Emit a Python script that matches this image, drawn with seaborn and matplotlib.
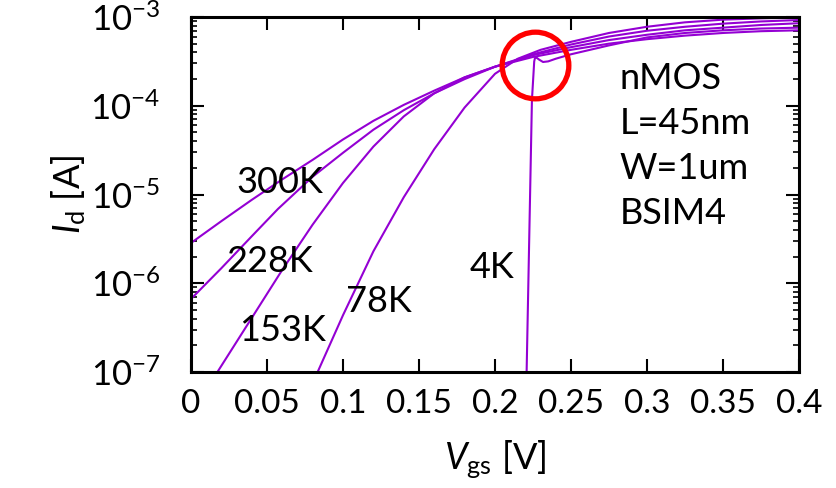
import matplotlib
matplotlib.use("Agg")
import matplotlib.pyplot as plt
import seaborn as sns
import numpy as np
import pandas as pd

# Id-Vgs curves; Vgs in V, Id given as log10(Id / A)
vgs_300 = [0.0, 0.02, 0.04, 0.06, 0.08, 0.10, 0.12, 0.14, 0.16, 0.18, 0.20,
           0.225, 0.25, 0.275, 0.30, 0.325, 0.35, 0.375, 0.40]
logid_300 = [-5.546, -5.30, -5.06, -4.83, -4.61, -4.38, -4.17, -3.99, -3.83, -3.68, -3.56,
             -3.45, -3.37, -3.30, -3.25, -3.21, -3.18, -3.16, -3.15]

vgs_228 = [0.0, 0.02, 0.04, 0.0572, 0.08, 0.10, 0.12, 0.14, 0.16, 0.18, 0.20,
           0.225, 0.25, 0.275, 0.30, 0.325, 0.35, 0.375, 0.40]
logid_228 = [-6.177, -5.83, -5.47, -5.163, -4.80, -4.53, -4.27, -4.05, -3.86, -3.70, -3.56,
             -3.43, -3.34, -3.26, -3.20, -3.15, -3.12, -3.09, -3.07]

vgs_153 = [0.0, 0.0178, 0.04, 0.06, 0.08, 0.10, 0.12, 0.14, 0.16, 0.18, 0.20,
           0.225, 0.25, 0.275, 0.30, 0.325, 0.35, 0.375, 0.40]
logid_153 = [-7.5, -6.989, -6.39, -5.85, -5.34, -4.87, -4.46, -4.12, -3.86, -3.68, -3.56,
             -3.42, -3.31, -3.22, -3.155, -3.11, -3.075, -3.05, -3.034]

vgs_78 = [0.07, 0.0836, 0.10, 0.12, 0.14, 0.16, 0.18, 0.20, 0.215, 0.23,
          0.25, 0.275, 0.30, 0.325, 0.35, 0.375, 0.40]
logid_78 = [-7.55, -6.989, -6.36, -5.64, -5.03, -4.49, -4.02, -3.64, -3.47, -3.37,
            -3.28, -3.18, -3.11, -3.06, -3.03, -3.015, -3.005]

vgs_4 = [0.2200, 0.2243, 0.2258, 0.2263, 0.2275, 0.229, 0.2316, 0.235, 0.24, 0.25, 0.26,
         0.275, 0.30, 0.325, 0.35, 0.375, 0.40]
logid_4 = [-7.7, -3.935, -3.50, -3.462, -3.46, -3.48, -3.507, -3.50, -3.47, -3.42, -3.38,
           -3.32, -3.23, -3.18, -3.15, -3.13, -3.12]

temps = ["300K", "228K", "153K", "78K", "4K"]
# temperature tag positions (Vgs, Id)
label_x = [0.0586, 0.052, 0.0599, 0.1237, 0.198]
label_y = [1.38e-5, 1.78e-6, 2.9e-7, 6.15e-7, 1.49e-6]

info_lines = ["nMOS", "L=45nm", "W=1um", "BSIM4"]
x_ticks = [0, 0.05, 0.1, 0.15, 0.2, 0.25, 0.3, 0.35, 0.4]
x_ticklabels = ["0", "0.05", "0.1", "0.15", "0.2", "0.25", "0.3", "0.35", "0.4"]
y_ticks = [1e-7, 1e-6, 1e-5, 1e-4, 1e-3]
y_ticklabels = [r"$\mathregular{10^{-7}}$", r"$\mathregular{10^{-6}}$", r"$\mathregular{10^{-5}}$",
                r"$\mathregular{10^{-4}}$", r"$\mathregular{10^{-3}}$"]

# circled kink of the 4K curve
kink_vgs = 0.2263
kink_id = 2.88e-4

frames = []
for t, v, li in zip(temps, [vgs_300, vgs_228, vgs_153, vgs_78, vgs_4],
                    [logid_300, logid_228, logid_153, logid_78, logid_4]):
    frames.append(pd.DataFrame({"Vgs": v, "Id": np.power(10.0, li), "T": t}))
df = pd.concat(frames, ignore_index=True)

sns.set_style("ticks")
plt.rcParams["font.family"] = ["Lato", "DejaVu Sans"]
plt.rcParams["mathtext.fontset"] = "custom"
plt.rcParams["mathtext.rm"] = "Lato"
plt.rcParams["mathtext.it"] = "Lato:italic"
for key in ["text.color", "axes.labelcolor", "xtick.color", "ytick.color"]:
    plt.rcParams[key] = "black"

purple = "#9400D3"
fig = plt.figure(figsize=(8.36, 4.88), dpi=100)
ax = fig.add_axes([191 / 836, 116 / 488, 608 / 836, 355 / 488])

sns.lineplot(data=df, x="Vgs", y="Id", hue="T", units="T", estimator=None,
             palette={t: purple for t in temps}, linewidth=1.5, legend=False,
             sort=False, ax=ax)

ax.set_yscale("log")
ax.set_xlim(0, 0.4)
ax.set_ylim(1e-7, 1e-3)

ax.plot([kink_vgs], [kink_id], "o", ms=48, mfc="none", mec="#ff0000", mew=3.8, zorder=5)

for t, lx, ly in zip(temps, label_x, label_y):
    ax.text(lx, ly, t, fontsize=26, ha="center", va="center")

for k, line in enumerate(info_lines):
    ax.text(0.705, 0.828 - k * 0.127, line, transform=ax.transAxes,
            fontsize=26, ha="left", va="center")

ax.set_xticks(x_ticks)
ax.set_xticklabels(x_ticklabels, fontsize=24)
ax.set_yticks(y_ticks)
ax.set_yticklabels(y_ticklabels, fontsize=25)

ax.tick_params(axis="both", which="major", direction="in", length=9.5, width=1.5,
               top=True, right=True, color="black")
ax.tick_params(axis="y", which="minor", direction="in", length=4.5, width=1.2,
               left=True, right=True, color="black")
ax.tick_params(axis="x", which="minor", bottom=False, top=False)
ax.tick_params(axis="x", pad=12)
ax.tick_params(axis="y", pad=22)

for s in ax.spines.values():
    s.set_linewidth(2.2)
    s.set_color("black")

ax.set_xlabel(r"$V_{\mathrm{gs}}$ [V]", fontsize=26, labelpad=14)
ax.set_ylabel(r"$I_{\mathrm{d}}$ [A]", fontsize=26, labelpad=2)

fig.savefig("out.png", dpi=100)
